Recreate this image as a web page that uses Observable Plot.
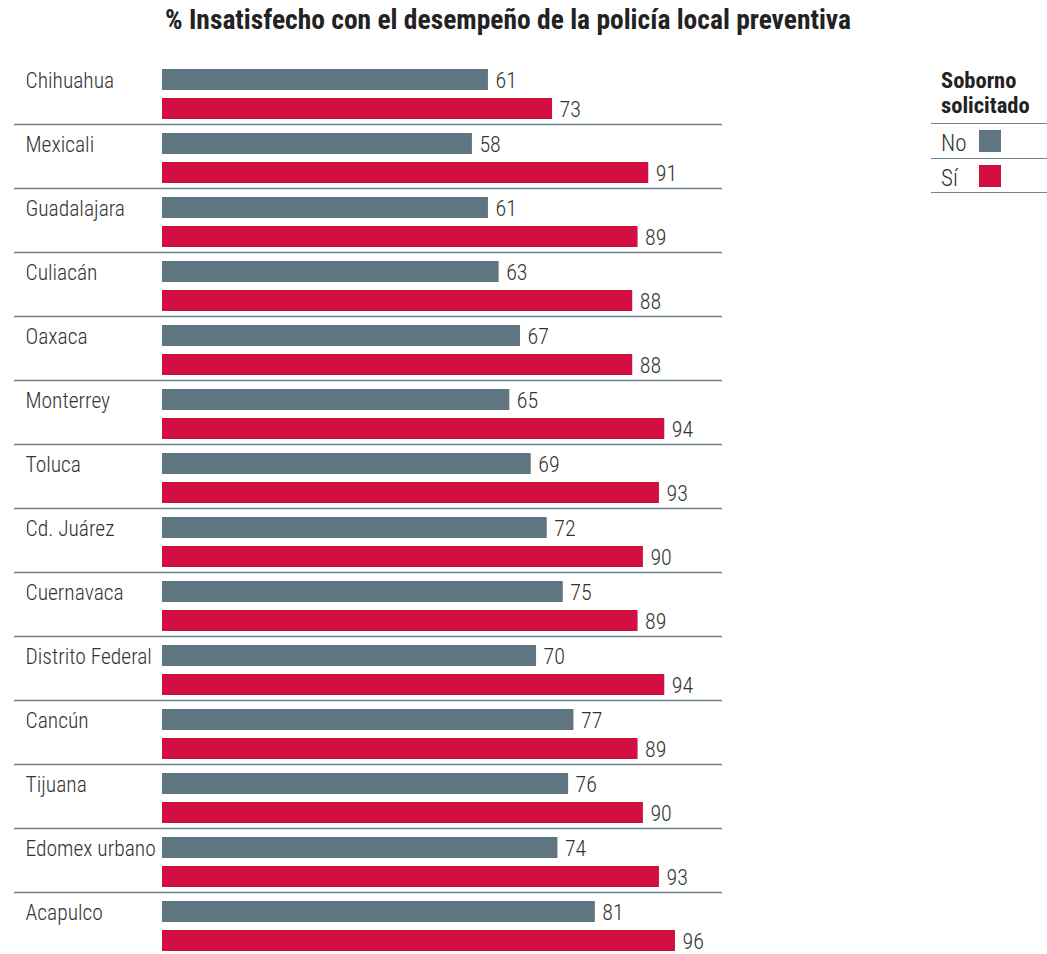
<!DOCTYPE html>
<html>
<head>
<meta charset="utf-8">
<script src="https://cdn.jsdelivr.net/npm/d3@7"></script>
<script src="https://cdn.jsdelivr.net/npm/@observablehq/plot@0.6"></script>
<style>
  html, body { margin: 0; padding: 0; background: #fff; overflow: hidden; }
  body { width: 1047px; height: 954px; position: relative;
         font-family: "Roboto Condensed", "Liberation Sans Narrow", "DejaVu Sans Condensed", sans-serif; color: #333; }
  #title { width: 1016px; height: 45px; box-sizing: border-box; padding-top: 1px; line-height: 38px;
           text-align: center; font-weight: bold; font-size: 27.5px; color: #222; }
  #legend { position: absolute; left: 931px; top: 68px; width: 116px; }
  #legend .head { padding-left: 10px; font-weight: bold; font-size: 22.5px; line-height: 25px; color: #222; height: 55px; }
  #legend .row { border-top: 1.5px solid #6d8591; height: 33.5px; position: relative; font-size: 23px; font-weight: 300; }
  #legend .row:last-child { border-bottom: 1.5px solid #6d8591; }
  #legend .row span { position: absolute; left: 10px; top: 7px; line-height: 26px; }
  #legend .row i { position: absolute; left: 48px; top: 6px; width: 22px; height: 22px; }
</style>
</head>
<body>
<div id="title">% Insatisfecho con el desempeño de la policía local preventiva</div>
<div id="chart"></div>
<div id="legend"></div>
<script>
const cities = ["Chihuahua","Mexicali","Guadalajara","Culiacán","Oaxaca","Monterrey","Toluca","Cd. Juárez","Cuernavaca","Distrito Federal","Cancún","Tijuana","Edomex urbano","Acapulco"];
const noValues = [61,58,61,63,67,65,69,72,75,70,77,76,74,81];
const siValues = [73,91,89,88,88,94,93,90,89,94,89,90,93,96];
const series = ["No","Sí"];
const colors = ["#5f7682","#d10f40"];
const legendTitle = ["Soborno","solicitado"];

const data = [];
cities.forEach((c, i) => {
  data.push({city: c, series: "No", value: noValues[i]});
  data.push({city: c, series: "Sí", value: siValues[i]});
});
const font = '"Roboto Condensed", "Liberation Sans Narrow", "DejaVu Sans Condensed", sans-serif';

const plot = Plot.plot({
  width: 1047,
  height: 15 + cities.length * 64,
  marginTop: 15,
  marginBottom: 0,
  marginLeft: 162,
  marginRight: 325,
  style: {fontFamily: font, background: "transparent"},
  x: {domain: [0, 104.8], axis: null},
  y: {domain: series, paddingInner: 0.27, paddingOuter: 0.22, align: 0.615, axis: null},
  fy: {domain: cities, padding: 0, axis: null},
  color: {domain: series, range: colors},
  marks: [
    Plot.barX(data, {x: "value", y: "series", fy: "city", fill: "series"}),
    Plot.text(data, {x: "value", y: "series", fy: "city", text: d => String(d.value),
      textAnchor: "start", dx: 7, lineAnchor: "bottom", dy: 7.5, fontSize: 22, fontWeight: 300, fill: "#333"}),
    Plot.text(data.filter(d => d.series === "No"), {y: "series", fy: "city", text: "city",
      frameAnchor: "left", textAnchor: "start", dx: -137, lineAnchor: "bottom", dy: 8, fontSize: 21.5, fontWeight: 300, fill: "#333"}),
    Plot.ruleY(data.filter(d => d.series === "Sí"), {y: "series", fy: "city", dy: 15.5,
      insetLeft: -148, stroke: "#6d8591", strokeWidth: 1.5})
  ]
});
document.getElementById("chart").appendChild(plot);

const legend = document.getElementById("legend");
legend.innerHTML = `<div class="head">${legendTitle.join("<br>")}</div>` +
  series.map((s, i) => `<div class="row"><span>${s}</span><i style="background:${colors[i]}"></i></div>`).join("");
</script>
</body>
</html>
